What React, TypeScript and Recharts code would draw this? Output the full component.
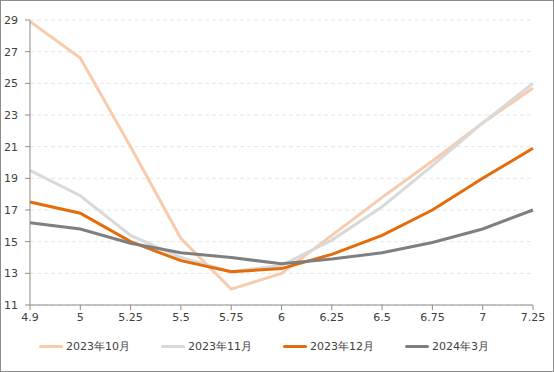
import React from "react";
import { LineChart, Line, XAxis, YAxis, CartesianGrid } from "recharts";

const rates = ["4.9", "5", "5.25", "5.5", "5.75", "6", "6.25", "6.5", "6.75", "7", "7.25"];
const oct2023 = [28.9, 26.6, 21.0, 15.2, 12.0, 13.0, 15.4, 17.8, 20.1, 22.5, 24.7];
const nov2023 = [19.5, 17.9, 15.4, 14.0, 13.1, 13.5, 15.1, 17.2, 19.8, 22.5, 25.0];
const dec2023 = [17.5, 16.8, 15.0, 13.8, 13.1, 13.3, 14.2, 15.4, 17.0, 19.0, 20.9];
const mar2024 = [16.2, 15.8, 14.9, 14.3, 14.0, 13.6, 13.9, 14.3, 14.95, 15.8, 17.0];
const yTicks = [11, 13, 15, 17, 19, 21, 23, 25, 27, 29];

const SERIES = [
  { key: "oct", name: "2023年10月", color: "#F8CBAD", values: oct2023 },
  { key: "nov", name: "2023年11月", color: "#D9D9D9", values: nov2023 },
  { key: "dec", name: "2023年12月", color: "#E46C0A", values: dec2023 },
  { key: "mar", name: "2024年3月", color: "#7F7F7F", values: mar2024 },
];

const data = rates.map((r, i) => {
  const row: Record<string, number | string> = { rate: r };
  SERIES.forEach((s) => (row[s.key] = s.values[i]));
  return row;
});

const FONT = "'DejaVu Sans', Verdana, sans-serif";

export default function App() {
  return (
    <div
      style={{
        position: "absolute",
        left: 0,
        top: 0,
        width: 554,
        height: 372,
        boxSizing: "border-box",
        border: "1px solid #8c8c8c",
        background: "#fff",
        fontFamily: FONT,
      }}
    >
      <div style={{ position: "absolute", left: -1, top: -1 }}>
        <LineChart
          width={554}
          height={372}
          data={data}
          margin={{ top: 20, right: 21, bottom: 45, left: 0 }}
        >
          <CartesianGrid
            vertical={false}
            stroke="#e6e6e6"
            strokeDasharray="4 3"
          />
          <XAxis
            dataKey="rate"
            height={22}
            stroke="#8c8c8c"
            tickSize={5}
            tickMargin={3}
            tick={{ fill: "#404040", fontSize: 11, fontFamily: FONT }}
            interval={0}
          />
          <YAxis
            width={30}
            domain={[11, 29]}
            ticks={yTicks}
            stroke="#8c8c8c"
            tickSize={5}
            tickMargin={7}
            tick={{ fill: "#404040", fontSize: 11, fontFamily: FONT }}
            interval={0}
          />
          {SERIES.map((s) => (
            <Line
              key={s.key}
              dataKey={s.key}
              name={s.name}
              stroke={s.color}
              strokeWidth={3}
              dot={false}
              activeDot={false}
              type="linear"
              isAnimationActive={false}
            />
          ))}
        </LineChart>
      </div>
      {/* legend drawn by hand, Excel style */}
      <div
        style={{
          position: "absolute",
          left: 38,
          top: 338,
          display: "flex",
          fontSize: 11,
          color: "#404040",
        }}
      >
        {SERIES.map((s) => (
          <div
            key={s.key}
            style={{ width: 122, display: "flex", alignItems: "center" }}
          >
            <span
              style={{
                display: "inline-block",
                width: 24,
                height: 3,
                borderRadius: 1.5,
                background: s.color,
                marginRight: 3,
              }}
            />
            <span>{s.name}</span>
          </div>
        ))}
      </div>
    </div>
  );
}
